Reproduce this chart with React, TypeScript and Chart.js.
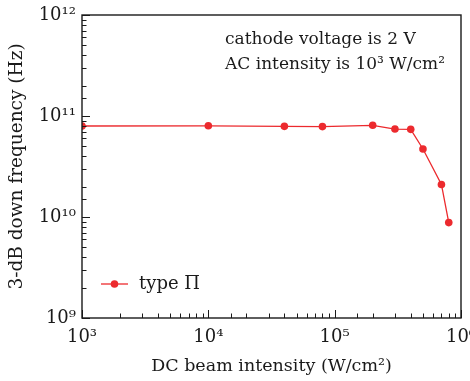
import React, { useEffect, useRef } from 'react';
import { Chart, registerables } from 'chart.js';

Chart.register(...registerables);

// DC beam intensity (W/cm²)
const intensity = [1e3, 1e4, 4e4, 8e4, 2e5, 3e5, 4e5, 5e5, 7e5, 8e5];
// 3-dB down frequency (Hz)
const frequency = [7.96e10, 8.0e10, 7.9e10, 7.85e10, 8.09e10, 7.43e10, 7.38e10, 4.71e10, 2.1e10, 8.8e9];
const seriesLabel = 'type Π';

const xPowers = [3, 4, 5, 6];
const xTickLabels = ['10³', '10⁴', '10⁵', '10⁶'];
const yPowers = [9, 10, 11, 12];
const yTickLabels = ['10⁹', '10¹⁰', '10¹¹', '10¹²'];

const xTitle = 'DC beam intensity (W/cm²)';
const yTitle = '3-dB down frequency (Hz)';
const annotationLines = ['cathode voltage is 2 V', 'AC intensity is 10³ W/cm²'];

const FONT = "'DejaVu Serif', serif";
const RED = '#ec2a2e';
const INK = '#1a1a1a';

const isPow10 = (v: number) => {
  const l = Math.log10(v);
  return Math.abs(l - Math.round(l)) < 1e-9;
};

const decorPlugin = {
  id: 'decor',
  afterDraw(chart: any) {
    const { ctx, chartArea } = chart;
    const { left, right, top, bottom } = chartArea;
    ctx.save();
    // inward tick marks
    ctx.strokeStyle = INK;
    ctx.lineWidth = 1;
    const xs = chart.scales.x;
    xs.ticks.forEach((t: any) => {
      const px = Math.round(xs.getPixelForValue(t.value)) + 0.5;
      const len = isPow10(t.value) ? 8 : 4.5;
      ctx.beginPath();
      ctx.moveTo(px, bottom);
      ctx.lineTo(px, bottom - len);
      ctx.stroke();
    });
    const ys = chart.scales.y;
    ys.ticks.forEach((t: any) => {
      const py = Math.round(ys.getPixelForValue(t.value)) + 0.5;
      const len = isPow10(t.value) ? 8 : 4.5;
      ctx.beginPath();
      ctx.moveTo(left, py);
      ctx.lineTo(left + len, py);
      ctx.stroke();
    });
    // frame
    ctx.lineWidth = 1.4;
    ctx.strokeRect(left, top, right - left, bottom - top);

    // annotation
    ctx.fillStyle = INK;
    ctx.font = `17px ${FONT}`;
    ctx.textBaseline = 'alphabetic';
    ctx.textAlign = 'left';
    ctx.fillText(annotationLines[0], left + 143, top + 29);
    ctx.fillText(annotationLines[1], left + 143, top + 54);

    // legend
    const ds = chart.data.datasets[0];
    const ly = bottom - 34;
    const lx = left + 19;
    ctx.strokeStyle = RED;
    ctx.lineWidth = 1.3;
    ctx.beginPath();
    ctx.moveTo(lx, ly);
    ctx.lineTo(lx + 27, ly);
    ctx.stroke();
    ctx.fillStyle = RED;
    ctx.beginPath();
    ctx.arc(lx + 13.5, ly, 3.8, 0, Math.PI * 2);
    ctx.fill();
    ctx.fillStyle = INK;
    ctx.font = `18px ${FONT}`;
    ctx.textBaseline = 'middle';
    ctx.fillText(ds.label, lx + 38, ly);
    ctx.restore();
  },
};

export default function App() {
  const ref = useRef<HTMLCanvasElement | null>(null);
  useEffect(() => {
    document.body.style.margin = '0';
    const canvas = ref.current;
    if (!canvas) return;
    const chart = new Chart(canvas, {
      type: 'line',
      data: {
        datasets: [
          {
            label: seriesLabel,
            data: intensity.map((x, i) => ({ x, y: frequency[i] })),
            borderColor: RED,
            backgroundColor: RED,
            borderWidth: 1.3,
            pointRadius: 3.8,
            pointBorderWidth: 0,
            pointBackgroundColor: RED,
            tension: 0,
          },
        ],
      },
      options: {
        animation: false,
        responsive: false,
        devicePixelRatio: 1,
        layout: { padding: { top: 15, right: 9, left: 0, bottom: 0 } },
        plugins: { legend: { display: false }, tooltip: { enabled: false } },
        scales: {
          x: {
            type: 'logarithmic',
            min: 1e3,
            max: 1e6,
            grid: { display: false, drawTicks: false, tickLength: 0 },
            border: { display: false },
            ticks: {
              autoSkip: false,
              maxRotation: 0,
              padding: 9,
              color: INK,
              font: { family: FONT, size: 18 },
              callback: (v: any) => {
                const i = xPowers.findIndex((p) => Math.abs(Math.log10(Number(v)) - p) < 1e-9);
                return i >= 0 ? xTickLabels[i] : '';
              },
            },
            title: {
              display: true,
              text: xTitle,
              color: INK,
              font: { family: FONT, size: 17.5 },
              padding: { top: 0, bottom: 4 },
            },
            afterFit: (s: any) => {
              s.height = 63;
              s.paddingLeft = 0;
              s.paddingRight = 0;
            },
          },
          y: {
            type: 'logarithmic',
            min: 1e9,
            max: 1e12,
            grid: { display: false, drawTicks: false, tickLength: 0 },
            border: { display: false },
            ticks: {
              autoSkip: false,
              padding: 6,
              color: INK,
              font: { family: FONT, size: 18 },
              callback: (v: any) => {
                const i = yPowers.findIndex((p) => Math.abs(Math.log10(Number(v)) - p) < 1e-9);
                return i >= 0 ? yTickLabels[i] : '';
              },
            },
            title: {
              display: true,
              text: yTitle,
              color: INK,
              font: { family: FONT, size: 18.5 },
              padding: { top: 6, bottom: 0 },
            },
            afterFit: (s: any) => {
              s.width = 82;
              s.paddingTop = 0;
              s.paddingBottom = 0;
            },
          },
        },
      },
      plugins: [decorPlugin],
    });
    return () => chart.destroy();
  }, []);
  return <canvas ref={ref} width={470} height={381} style={{ display: 'block', width: 470, height: 381 }} />;
}
